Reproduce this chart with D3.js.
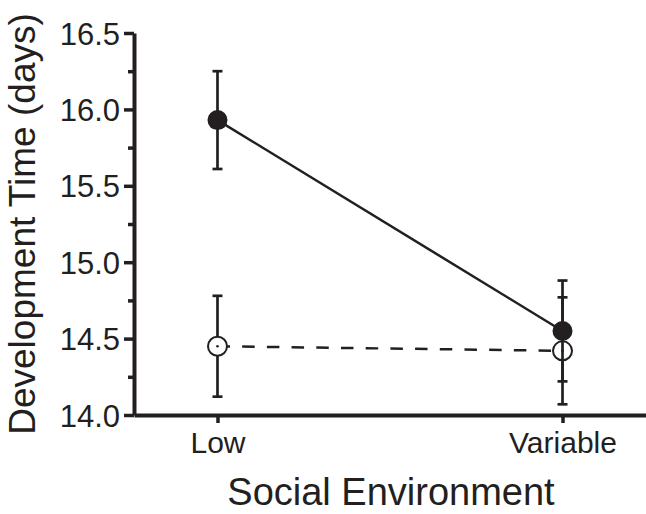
<!DOCTYPE html>
<html>
<head>
<meta charset="utf-8">
<script src="https://cdn.jsdelivr.net/npm/d3@7"></script>
<style>
    body { margin: 0; background: #fff; }
    svg { display: block; }
    .axis path, .axis line { stroke: #231f20; }
    .axis text { fill: #231f20; font-family: 'Liberation Sans', Arial, sans-serif; }
</style>
</head>
<body>
<svg id="plate" width="646" height="514"></svg>
<script>
// data
var categories = ['Low', 'Variable'];
var filledMeans = [15.93, 14.55];
var filledErrors = [0.32, 0.33];
var openMeans = [14.45, 14.42];
var openErrors = [0.33, 0.35];
var yMajorTicks = [14.0, 14.5, 15.0, 15.5, 16.0, 16.5];
var yMinorTicks = [14.25, 14.75, 15.25, 15.75, 16.25];

var ink = '#231f20';
var svg = d3.select('#plate');

// set the ranges
var x = d3.scalePoint().domain(categories).range([134, 646]).padding(0.242);
var y = d3.scaleLinear().domain([14, 16.5]).range([415, 33]);

var filled = categories.map((c, i) => ({cat: c, mean: filledMeans[i], err: filledErrors[i]}));
var open = categories.map((c, i) => ({cat: c, mean: openMeans[i], err: openErrors[i]}));

var line = d3.line()
    .x((d) => x(d.cat))
    .y((d) => y(d.mean));

// minor y ticks
svg.append('g')
    .attr('class', 'axis minor')
    .attr('transform', 'translate(134,0)')
    .call(d3.axisLeft(y).tickValues(yMinorTicks).tickSize(6).tickFormat(''))
    .call((g) => g.select('.domain').remove())
    .selectAll('line').attr('stroke-width', 3.5);

// y axis
var yAxis = svg.append('g')
    .attr('class', 'axis y')
    .attr('transform', 'translate(134,0)')
    .call(d3.axisLeft(y).tickValues(yMajorTicks).tickSize(10).tickSizeOuter(0).tickPadding(4).tickFormat(d3.format('.1f')));
yAxis.select('.domain').attr('stroke-width', 4);
yAxis.selectAll('line').attr('stroke-width', 3.5);
yAxis.selectAll('text').attr('font-size', 31).attr('dy', '0.36em');

// x axis
var xAxis = svg.append('g')
    .attr('class', 'axis x')
    .attr('transform', 'translate(0,415)')
    .call(d3.axisBottom(x).tickSize(8).tickSizeOuter(0).tickPadding(9));
xAxis.select('.domain').attr('stroke-width', 4);
xAxis.selectAll('line').attr('stroke-width', 3.5);
xAxis.selectAll('text').attr('font-size', 30);

// axis titles
svg.append('text')
    .attr('transform', 'translate(35,224) rotate(-90)')
    .attr('text-anchor', 'middle')
    .attr('font-family', "'Liberation Sans', Arial, sans-serif")
    .attr('font-size', 37)
    .attr('fill', ink)
    .text('Development Time (days)');

svg.append('text')
    .attr('x', 391)
    .attr('y', 505)
    .attr('text-anchor', 'middle')
    .attr('font-family', "'Liberation Sans', Arial, sans-serif")
    .attr('font-size', 38)
    .attr('fill', ink)
    .text('Social Environment');

function errorBars(data, cls) {
    var g = svg.append('g').attr('class', 'err ' + cls);
    g.selectAll('line.v')
        .data(data)
        .enter().append('line')
        .attr('class', 'v')
        .attr('x1', (d) => x(d.cat)).attr('x2', (d) => x(d.cat))
        .attr('y1', (d) => y(d.mean - d.err)).attr('y2', (d) => y(d.mean + d.err))
        .attr('stroke', ink).attr('stroke-width', 2.7);
    ['top', 'bottom'].forEach((side) => {
        g.selectAll('line.' + side)
            .data(data)
            .enter().append('line')
            .attr('class', side)
            .attr('x1', (d) => x(d.cat) - 5).attr('x2', (d) => x(d.cat) + 5)
            .attr('y1', (d) => y(side === 'top' ? d.mean + d.err : d.mean - d.err))
            .attr('y2', (d) => y(side === 'top' ? d.mean + d.err : d.mean - d.err))
            .attr('stroke', ink).attr('stroke-width', 2.7);
    });
}

// open series (dashed)
svg.append('path')
    .datum(open)
    .attr('fill', 'none')
    .attr('stroke', ink)
    .attr('stroke-width', 2.5)
    .attr('stroke-dasharray', '12.5,12.2')
    .attr('d', line);
errorBars(open, 'open');
svg.selectAll('circle.open')
    .data(open)
    .enter().append('circle')
    .attr('class', 'open')
    .attr('cx', (d) => x(d.cat))
    .attr('cy', (d) => y(d.mean))
    .attr('r', 9.5)
    .attr('fill', '#fff')
    .attr('stroke', ink)
    .attr('stroke-width', 2);
svg.selectAll('circle.dot')
    .data(open)
    .enter().append('circle')
    .attr('class', 'dot')
    .attr('cx', (d) => x(d.cat))
    .attr('cy', (d) => y(d.mean))
    .attr('r', 1.3)
    .attr('fill', ink);

// filled series (solid)
svg.append('path')
    .datum(filled)
    .attr('fill', 'none')
    .attr('stroke', ink)
    .attr('stroke-width', 2.5)
    .attr('d', line);
errorBars(filled, 'filled');
svg.selectAll('circle.filled')
    .data(filled)
    .enter().append('circle')
    .attr('class', 'filled')
    .attr('cx', (d) => x(d.cat))
    .attr('cy', (d) => y(d.mean))
    .attr('r', 10)
    .attr('fill', ink);
</script>
</body>
</html>
